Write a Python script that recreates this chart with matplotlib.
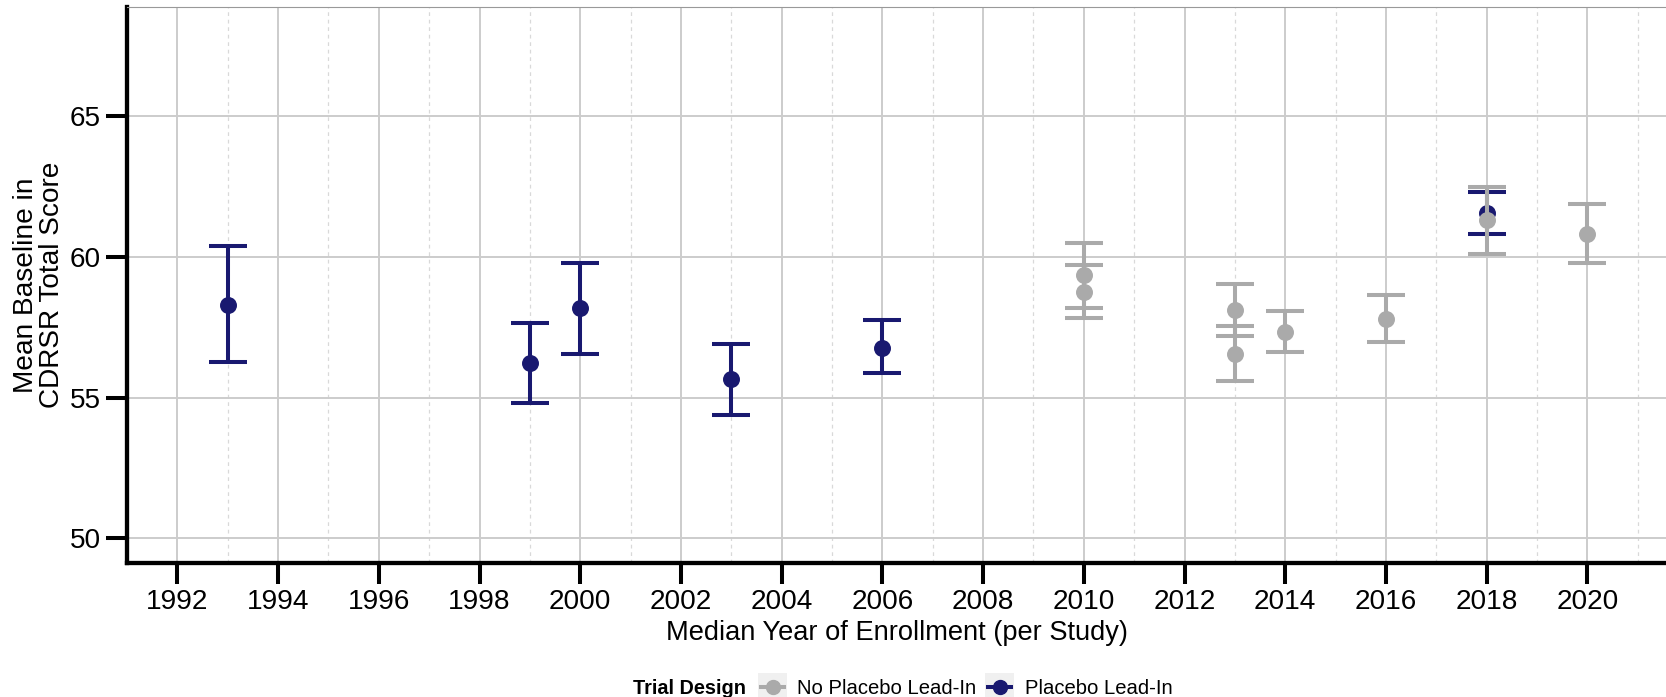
import numpy as np
import matplotlib
matplotlib.use("Agg")
import matplotlib.pyplot as plt
from matplotlib.patches import Rectangle
from matplotlib.lines import Line2D

plt.rcParams['font.family'] = ['Liberation Sans', 'DejaVu Sans']

# study-level means with 95% CI, by trial design
lead_in_year = [1993, 1999, 2000, 2003, 2006, 2018]
lead_in_mean = [58.30, 56.23, 58.17, 55.66, 56.77, 61.57]
lead_in_low = [56.26, 54.81, 56.56, 54.40, 55.89, 60.82]
lead_in_high = [60.39, 57.67, 59.77, 56.91, 57.76, 62.30]

no_lead_in_year = [2010, 2010, 2013, 2013, 2014, 2016, 2018, 2020]
no_lead_in_mean = [59.35, 58.77, 58.11, 56.55, 57.35, 57.79, 61.31, 60.83]
no_lead_in_low = [58.18, 57.84, 57.19, 55.60, 56.61, 56.99, 60.11, 59.80]
no_lead_in_high = [60.51, 59.72, 59.03, 57.53, 58.09, 58.64, 62.50, 61.87]

year_ticks = list(range(1992, 2021, 2))
score_ticks = [50, 55, 60, 65]

design_labels = ['No Placebo Lead-In', 'Placebo Lead-In']
navy = '#191970'
grey = '#AAAAAA'

W, H = 1666, 697
fig = plt.figure(figsize=(W / 100, H / 100), dpi=100)
ax = fig.add_axes([127 / W, 1 - 563 / H, 1 - 127 / W, (563 - 6.7) / H])

def draw_group(x, m, lo, hi, col, z):
    m = np.array(m)
    yerr = [m - np.array(lo), np.array(hi) - m]
    ax.errorbar(x, m, yerr=yerr, fmt='o', color=col, ecolor=col,
                elinewidth=2.9, capsize=13.6, capthick=2.9,
                markersize=11.2, zorder=z)

draw_group(lead_in_year, lead_in_mean, lead_in_low, lead_in_high, navy, 3)
draw_group(no_lead_in_year, no_lead_in_mean, no_lead_in_low, no_lead_in_high, grey, 4)

ax.set_xlim(1991.24, 2021.56)
ax.set_ylim(49.12, 68.9)
ax.set_xticks(year_ticks)
ax.set_xticks(np.arange(1991, 2022, 2), minor=True)
ax.set_yticks(score_ticks)

ax.grid(which='major', color='#CCCCCC', linewidth=1.4, zorder=0)
ax.grid(which='minor', axis='x', color='#D9D9D9', linewidth=0.9,
        linestyle=(0, (3, 3)), zorder=0)
ax.set_axisbelow(True)

for s in ['left', 'bottom']:
    ax.spines[s].set_linewidth(3.1)
    ax.spines[s].set_color('black')
ax.spines['top'].set_color('#999999')
ax.spines['top'].set_linewidth(0.8)
ax.spines['right'].set_visible(False)

ax.tick_params(which='major', length=15, width=2.9, labelsize=20.2,
               colors='black', pad=4)
ax.tick_params(which='minor', length=0)

ax.set_xlabel('Median Year of Enrollment (per Study)', fontsize=19.6, labelpad=3)
ax.set_ylabel('Mean Baseline in\nCDRSR Total Score', fontsize=20.2, labelpad=3,
              linespacing=1.0)

# legend along the bottom edge
fy = 1 - 694 / H
fig.text(633 / W, fy, 'Trial Design', fontsize=14.3, fontweight='bold',
         va='baseline', ha='left')
key_x = [758, 985]
text_x = [797, 1025]
colours = [grey, navy]
for kx, tx, lab, col in zip(key_x, text_x, design_labels, colours):
    fig.add_artist(Rectangle((kx / W, 1 - 702 / H), 29 / W, 29 / H,
                             transform=fig.transFigure, facecolor='#F0F0F0',
                             edgecolor='none'))
    cy = 1 - 687 / H
    fig.add_artist(Line2D([(kx + 3) / W, (kx + 26) / W], [cy, cy],
                          transform=fig.transFigure, color=col, linewidth=2.9))
    fig.add_artist(Line2D([(kx + 14.5) / W], [cy], transform=fig.transFigure,
                          marker='o', markersize=10, color=col, linestyle='none'))
    fig.text(tx / W, fy, lab, fontsize=14.6, va='baseline', ha='left')

fig.savefig('out.png', dpi=100)
